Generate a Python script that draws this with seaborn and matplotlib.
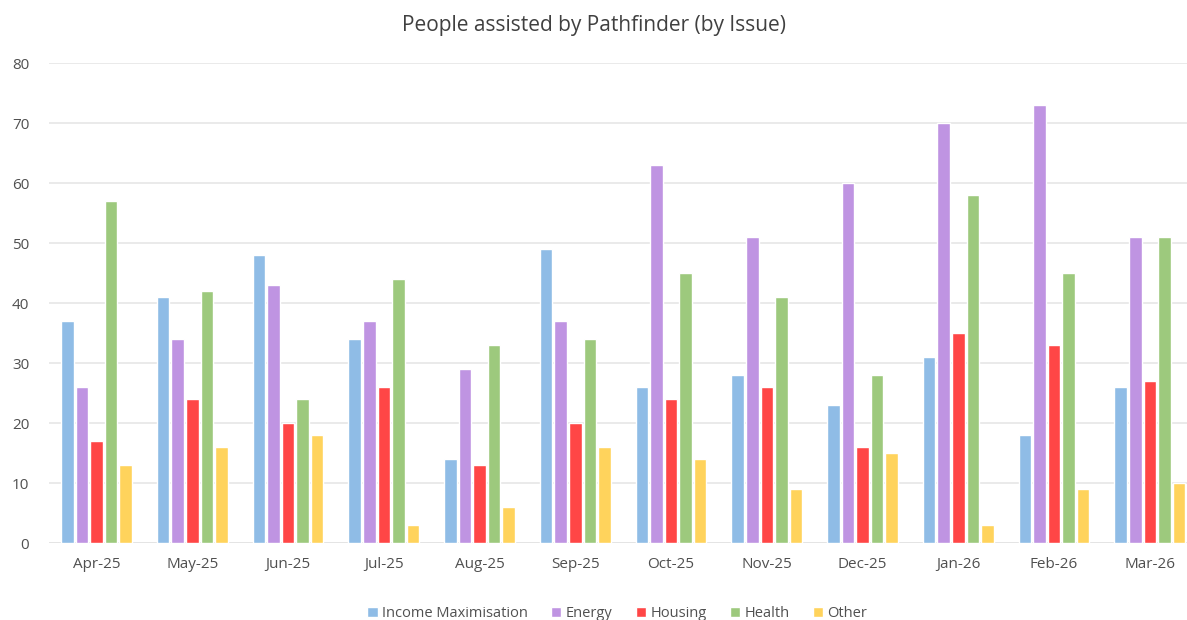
import pandas as pd
import numpy as np
import matplotlib
matplotlib.use('Agg')
import matplotlib.pyplot as plt
import seaborn as sns

months = ['Apr-25', 'May-25', 'Jun-25', 'Jul-25', 'Aug-25', 'Sep-25',
          'Oct-25', 'Nov-25', 'Dec-25', 'Jan-26', 'Feb-26', 'Mar-26']
income = [37, 41, 48, 34, 14, 49, 26, 28, 23, 31, 18, 26]
energy = [26, 34, 43, 37, 29, 37, 63, 51, 60, 70, 73, 51]
housing = [17, 24, 20, 26, 13, 20, 24, 26, 16, 35, 33, 27]
health = [57, 42, 24, 44, 33, 34, 45, 41, 28, 58, 45, 51]
other = [13, 16, 18, 3, 6, 16, 14, 9, 15, 3, 9, 10]
issues = ['Income Maximisation', 'Energy', 'Housing', 'Health', 'Other']
colors = ['#8FBCE6', '#BF94E2', '#FF4646', '#9DC97D', '#FFD35C']

data = pd.DataFrame({'Month': months, 'Income Maximisation': income, 'Energy': energy,
                     'Housing': housing, 'Health': health, 'Other': other})
data = data.melt(id_vars='Month', var_name='Issue', value_name='People')

sns.set_style('white')
plt.rcParams['font.family'] = ['Open Sans', 'DejaVu Sans']

fig = plt.figure(figsize = (11.87, 6.2), dpi = 100)
ax = fig.add_axes([0.041, 0.124, 0.968, 0.774])
sns.barplot(data = data, x = 'Month', y = 'People', hue = 'Issue', hue_order = issues,
            palette = colors, width = 0.76, gap = 0.14, ax = ax, saturation = 1)

ax.set_ylim(0, 80)
ax.set_yticks(range(0, 81, 10))
ax.set_xlim(-0.5, 11.5)
ax.grid(axis = 'y', color = '#E6E6E6', linewidth = 1.2)
ax.set_axisbelow(True)
sns.despine(left = True, bottom = True)
ax.axhline(0, color = '#D9D9D9', linewidth = 1.2, zorder = 0)
ax.set_xlabel('')
ax.set_ylabel('')
ax.tick_params(axis = 'both', length = 0, labelsize = 11, colors = '#505050', pad = 10)
ax.tick_params(axis = 'y', pad = 14)

fig.suptitle('People assisted by Pathfinder (by Issue)', y = 0.975, fontsize = 15, color = '#404040')
ax.legend(loc = 'lower center', bbox_to_anchor = (0.495, -0.18), ncol = 5, frameon = False,
          fontsize = 10.5, handlelength = 0.7, handleheight = 0.7, handletextpad = 0.3,
          columnspacing = 1.6, labelcolor = '#505050', borderaxespad = 0.2)

fig.savefig('out.png', dpi = 100)
